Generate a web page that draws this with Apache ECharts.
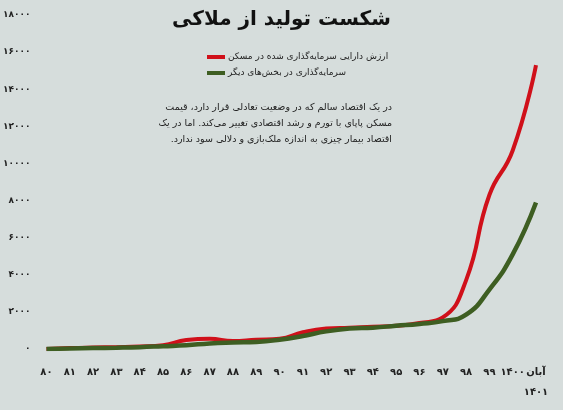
<!DOCTYPE html>
<html>
<head>
<meta charset="utf-8">
<script src="https://cdn.jsdelivr.net/npm/echarts@6.0.0/dist/echarts.min.js"></script>
<style>
  html, body { margin: 0; padding: 0; background: #d6dddc; }
  #chart { width: 563px; height: 410px; }
</style>
</head>
<body>
<div id="chart"></div>
<script>
const years = ['۸۰','۸۱','۸۲','۸۳','۸۴','۸۵','۸۶','۸۷','۸۸','۸۹','۹۰','۹۱','۹۲','۹۳','۹۴','۹۵','۹۶','۹۷','۹۸','۹۹','۱۴۰۰','آبان\n۱۴۰۱'];
const housing = [0, 50, 80, 100, 130, 200, 480, 550, 430, 500, 550, 900, 1100, 1150, 1200, 1250, 1400, 1700, 3700, 8300, 10700, 15300];
const otherSectors = [0, 30, 50, 70, 100, 150, 200, 300, 350, 380, 500, 700, 950, 1100, 1150, 1250, 1350, 1500, 1850, 3200, 5100, 7900];

const font = 'DejaVu Sans';
const toFa = v => String(v).replace(/\d/g, d => '۰۱۲۳۴۵۶۷۸۹'[d]);
const RLM = '\u200F';

const chart = echarts.init(document.getElementById('chart'));
chart.setOption({
  backgroundColor: '#d6dddc',
  animation: false,
  textStyle: { fontFamily: font },
  grid: { left: 46, right: 27, top: 15, bottom: 61 },
  xAxis: {
    type: 'category', data: years, boundaryGap: false,
    axisLine: { show: false }, axisTick: { show: false },
    axisLabel: { color: '#222', fontSize: 10, fontWeight: 'bold', margin: 13, interval: 0, lineHeight: 20 }
  },
  yAxis: {
    type: 'value', min: 0, max: 18000, interval: 2000,
    splitLine: { show: false },
    axisLabel: { color: '#222', fontSize: 9, fontWeight: 'bold', margin: 16, formatter: v => toFa(v) }
  },
  graphic: [
    { type: 'text', left: 'center', top: 10, style: { text: 'شکست تولید از ملاکی', font: 'bold 20px ' + font, fill: '#111' } },
    { type: 'line', shape: { x1: 207, y1: 57, x2: 225, y2: 57 }, style: { stroke: '#d0101a', lineWidth: 4 } },
    { type: 'line', shape: { x1: 207, y1: 73, x2: 225, y2: 73 }, style: { stroke: '#3e5e22', lineWidth: 4 } },
    { type: 'text', x: 228, y: 57, style: { text: 'ارزش دارایی سرمایه‌گذاری شده در مسکن', font: '9px ' + font, fill: '#222', align: 'left', verticalAlign: 'middle' } },
    { type: 'text', x: 228, y: 73, style: { text: 'سرمایه‌گذاری در بخش‌های دیگر', font: '9px ' + font, fill: '#222', align: 'left', verticalAlign: 'middle' } },
    { type: 'text', x: 392, y: 100, style: { text: 'در یک اقتصاد سالم که در وضعیت تعادلی قرار دارد، قیمت\nمسکن پاپای با تورم و رشد اقتصادی تغییر می‌کند. اما در یک\nاقتصاد بیمار چیزی به اندازه ملک‌بازی و دلالی سود ندارد.' + RLM, font: '9.5px ' + font, fill: '#222', align: 'right', lineHeight: 16 } }
  ],
  series: [
    { name: 'مسکن', type: 'line', data: housing, smooth: true, symbol: 'none', lineStyle: { color: '#d0101a', width: 4 } },
    { name: 'دیگر', type: 'line', data: otherSectors, smooth: true, symbol: 'none', lineStyle: { color: '#3e5e22', width: 4.5 } }
  ]
});
</script>
</body>
</html>
